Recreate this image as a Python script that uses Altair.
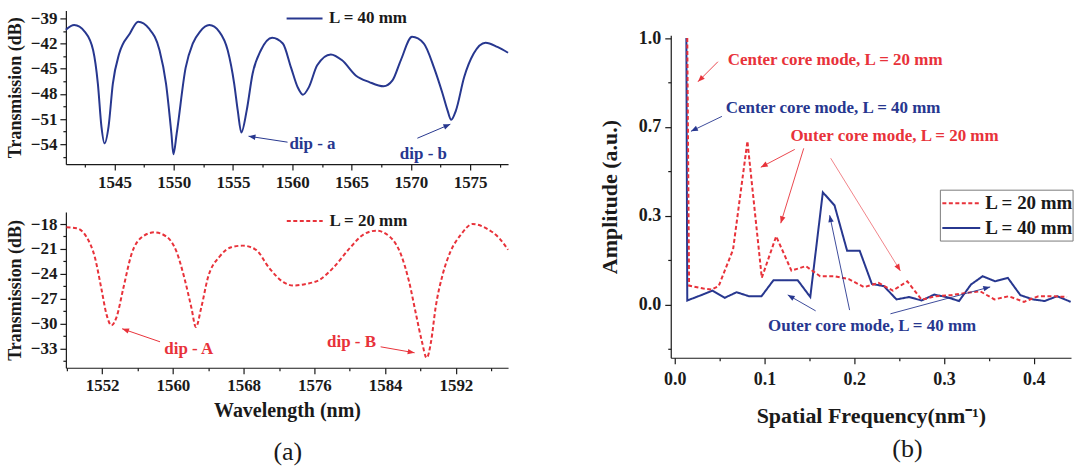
import math
import altair as alt
import pandas as pd

BLUE = "#27378f"
RED = "#e8323a"
INK = "#1a1a1a"
FONT = "Liberation Serif"
HEAD = "M0,0 L0.4,1 L-0.4,1 Z"

# ---------------- (a) top : L = 40 mm ----------------
wl40 = [1540.9, 1541.6, 1542.5, 1543.2, 1543.6, 1543.9, 1544.16, 1544.5, 1544.86, 1545.4,
        1546.3, 1547.0, 1547.9, 1548.8, 1549.35, 1549.8, 1549.97, 1550.25, 1551.0, 1551.6,
        1552.2, 1553.0, 1553.85, 1554.55, 1555.1, 1555.4, 1555.7, 1556.15, 1556.65, 1557.35,
        1558.3, 1559.2, 1559.9, 1560.45, 1560.9, 1561.4, 1562.1, 1563.25, 1564.2, 1565.35,
        1566.5, 1567.7, 1568.45, 1569.15, 1570.1, 1571.1, 1571.96, 1572.66, 1573.1, 1573.4,
        1573.8, 1574.5, 1575.3, 1576.3, 1577.3, 1578.2]
tr40 = [-40.35, -39.8, -40.6, -42.8, -46.8, -51.9, -53.9, -51.9, -46.8, -43.2,
        -40.8, -39.4, -40.2, -42.8, -46.8, -52.7, -55.2, -52.7, -44.9, -42.0,
        -40.6, -39.8, -40.6, -42.8, -46.8, -50.0, -52.6, -50.0, -45.6, -42.8,
        -41.3, -42.0, -44.9, -47.2, -48.1, -47.2, -44.6, -43.3, -44.0, -45.8,
        -46.6, -47.1, -46.4, -44.0, -41.2, -42.0, -44.9, -47.9, -50.0, -51.1,
        -50.0, -46.0, -43.2, -41.9, -42.4, -43.1]

# ---------------- (a) bottom : L = 20 mm ----------------
wl20 = [1547.97, 1549.1, 1550.2, 1551.2, 1551.9, 1552.5, 1553.05, 1553.6, 1554.4, 1555.3,
        1556.6, 1557.9, 1559.25, 1560.4, 1561.3, 1562.1, 1562.6, 1563.2, 1563.95, 1565.3,
        1566.6, 1567.9, 1569.4, 1570.9, 1572.5, 1573.6, 1575.1, 1576.6, 1578.1, 1580.0,
        1581.5, 1583.0, 1584.5, 1585.8, 1586.7, 1587.5, 1588.15, 1588.7, 1589.2, 1589.7,
        1590.5, 1591.4, 1592.55, 1593.9, 1595.4, 1596.9, 1597.9]
tr20 = [-18.4, -18.5, -19.5, -22.1, -25.7, -28.9, -30.2, -29.3, -25.7, -21.7,
        -19.5, -19.0, -19.5, -21.3, -24.5, -28.1, -30.4, -28.1, -24.5, -21.9,
        -20.8, -20.6, -21.1, -23.3, -25.0, -25.4, -25.2, -24.7, -23.3, -20.9,
        -19.3, -18.8, -19.5, -21.7, -24.9, -28.9, -32.1, -34.1, -32.1, -28.1,
        -24.1, -21.3, -19.3, -18.0, -18.5, -19.7, -21.1]

# ---------------- (b) spatial frequency spectrum ----------------
f40 = [0.0130, 0.0140, 0.0280, 0.0420, 0.0556, 0.0690, 0.0826, 0.0967, 0.1100, 0.1237,
       0.1370, 0.1510, 0.1650, 0.1780, 0.1920, 0.2060, 0.2196, 0.2330, 0.2470, 0.2610,
       0.2750, 0.2890, 0.3026, 0.3167, 0.3300, 0.3430, 0.3570, 0.3710, 0.3850, 0.3990,
       0.4120, 0.4260, 0.4410]
a40 = [1.000, 0.015, 0.033, 0.052, 0.025, 0.046, 0.031, 0.031, 0.091, 0.091,
       0.091, 0.028, 0.421, 0.372, 0.202, 0.202, 0.077, 0.069, 0.019, 0.028,
       0.015, 0.037, 0.028, 0.013, 0.075, 0.106, 0.087, 0.100, 0.035, 0.019,
       0.013, 0.031, 0.010]
f20 = [0.0140, 0.0160, 0.0320, 0.0410, 0.0490, 0.0650, 0.0810, 0.0970, 0.1130, 0.1300,
       0.1460, 0.1620, 0.1780, 0.1940, 0.2110, 0.2270, 0.2430, 0.2590, 0.2750, 0.2910,
       0.3080, 0.3240, 0.3400, 0.3560, 0.3720, 0.3890, 0.4050, 0.4210, 0.4370]
a20 = [1.000, 0.071, 0.060, 0.056, 0.069, 0.206, 0.613, 0.100, 0.256, 0.127,
       0.144, 0.106, 0.106, 0.095, 0.065, 0.081, 0.052, 0.087, 0.018, 0.031,
       0.035, 0.043, 0.050, 0.019, 0.031, 0.010, 0.031, 0.031, 0.028]

S20, S40 = "L = 20 mm", "L = 40 mm"

# annotations: (x, y, x2, y2, colour, width) in data units ; texts (x, y, text, colour)
top_arrows = [(1559.6, -53.76, 1556.31, -53.05, BLUE, 1.0),
              (1570.55, -53.29, 1573.33, -51.62, BLUE, 1.0)]
top_texts = [(1561.7, -54.0, "dip - a", BLUE), (1571.06, -55.19, "dip - b", BLUE)]
bot_arrows = [(1558.55, -32.17, 1554.26, -30.6, RED, 1.0),
              (1583.49, -32.77, 1587.33, -33.49, RED, 1.0)]
bot_texts = [(1561.8, -33.0, "dip - A", RED), (1580.2, -32.17, "dip - B", RED)]
r_arrows = [(0.0481, 0.911, 0.0259, 0.836, RED, 0.9),
            (0.0526, 0.706, 0.0181, 0.650, BLUE, 0.9),
            (0.1337, 0.582, 0.0959, 0.515, RED, 0.9),
            (0.1437, 0.586, 0.1181, 0.305, RED, 0.9),
            (0.1737, 0.549, 0.2514, 0.126, RED, 0.6),
            (0.1570, -0.024, 0.1259, 0.036, BLUE, 0.9),
            (0.1948, -0.021, 0.1726, 0.335, BLUE, 0.9),
            (0.2403, -0.035, 0.3514, 0.066, BLUE, 0.9)]
r_texts = [(0.1787, 0.919, "Center core mode, L = 20 mm", RED),
           (0.1764, 0.736, "Center core mode, L = 40 mm", BLUE),
           (0.2448, 0.631, "Outer core mode, L = 20 mm", RED),
           (0.2198, -0.080, "Outer core mode, L = 40 mm", BLUE)]

# legend keys: (x, x2, y, text_x, label, colour, dash) in data units
top_key = [(1559.52, 1562.55, -39.0, 1563.1, S40, BLUE, [1, 0])]
bot_key = [(1572.88, 1576.94, -17.64, 1577.7, S20, RED, [4, 2.5])]
r_key = [(0.2981, 0.3403, 0.380, 0.3459, S20, RED, [4, 2.5]),
         (0.2981, 0.3403, 0.287, 0.3459, S40, BLUE, [1, 0])]
r_key_box = (0.2959, 0.4437, 0.429, 0.238)


def make_axis(values, minor_test, title, label_pad, title_pad=0, fmt=None,
              title_size=18, label_size=17):
    kw = dict(values=values, title=title, grid=False,
              tickSize={"condition": {"test": minor_test, "value": 3}, "value": 6},
              labelExpr="(" + minor_test + ") ? '' : datum.label",
              labelPadding=label_pad, titlePadding=title_pad,
              labelFont=FONT, labelFontWeight="bold", labelFontSize=label_size, labelColor=INK,
              titleFont=FONT, titleFontWeight="bold", titleFontSize=title_size, titleColor=INK,
              domainColor=INK, tickColor=INK, domainWidth=1.2, tickWidth=1.2,
              labelFlush=False, labelOverlap=False)
    if fmt:
        kw["format"] = fmt
    return alt.Axis(**kw)


def annot_layers(xenc, yenc, arrows, texts, px, py, fs=17):
    arr = pd.DataFrame(arrows, columns=["x", "y", "x2", "y2", "c", "w"])
    arr["ang"] = [math.degrees(math.atan2((r.x2 - r.x) * px, (r.y2 - r.y) * py)) % 360
                  for r in arr.itertuples()]
    rules = alt.Chart(arr).mark_rule().encode(
        x=xenc("x"), y=yenc("y"), x2="x2:Q", y2="y2:Q",
        color=alt.Color("c:N", scale=None),
        strokeWidth=alt.StrokeWidth("w:Q", scale=None))
    heads = alt.Chart(arr).mark_point(shape=HEAD, filled=True, size=190, opacity=1).encode(
        x=xenc("x2"), y=yenc("y2"), angle=alt.Angle("ang:Q", scale=None),
        color=alt.Color("c:N", scale=None))
    tdf = pd.DataFrame(texts, columns=["x", "y", "t", "c"])
    txt = alt.Chart(tdf).mark_text(font=FONT, fontWeight="bold", fontSize=fs).encode(
        x=xenc("x"), y=yenc("y"), text="t:N", color=alt.Color("c:N", scale=None))
    return [rules, heads, txt]


def key_layers(xenc, yenc, keys, fs):
    layers = []
    for (x, x2, y, tx, lab, col, dash) in keys:
        d = pd.DataFrame({"x": [x], "x2": [x2], "y": [y], "tx": [tx], "t": [lab]})
        layers.append(alt.Chart(d).mark_rule(strokeWidth=2, color=col, strokeDash=dash).encode(
            x=xenc("x"), x2="x2:Q", y=yenc("y")))
        layers.append(alt.Chart(d).mark_text(font=FONT, fontWeight="bold", fontSize=fs,
                                             color=INK, align="left", baseline="middle").encode(
            x=xenc("tx"), y=yenc("y"), text="t:N"))
    return layers


# ---------- top-left panel ----------
W_L, H_T, H_B = 443, 154, 156
xd_t, yd_t = [1540.9, 1578.2], [-56.38, -38.05]
ax_xt = make_axis([1542.5 + 2.5 * i for i in range(15)], "datum.value % 5 != 0", None, 4,
                  fmt="d")
ax_yt = make_axis([-55.5 + 1.5 * i for i in range(12)], "datum.value % 3 != 0",
                  "Transmission (dB)", 3, 6)


def xt(f):
    return alt.X(f + ":Q", scale=alt.Scale(domain=xd_t, nice=False, zero=False), axis=ax_xt)


def yt(f):
    return alt.Y(f + ":Q", scale=alt.Scale(domain=yd_t, nice=False, zero=False), axis=ax_yt)


df40 = pd.DataFrame({"wl": wl40, "tr": tr40})
top_line = alt.Chart(df40).mark_line(strokeWidth=2, interpolate="monotone", color=BLUE).encode(
    x=xt("wl"), y=yt("tr"))
top = alt.layer(top_line,
                *annot_layers(xt, yt, top_arrows, top_texts,
                              W_L / (xd_t[1] - xd_t[0]), H_T / (yd_t[1] - yd_t[0])),
                *key_layers(xt, yt, top_key, 17)
                ).properties(width=W_L, height=H_T)

# ---------- bottom-left panel ----------
xd_b, yd_b = [1547.9, 1597.9], [-35.29, -16.56]
ax_xb = make_axis([1548 + 4 * i for i in range(13)], "datum.value % 8 != 0",
                  "Wavelength (nm)", 4, 7, fmt="d", title_size=20)
ax_yb = make_axis([-34.5 + 1.5 * i for i in range(12)], "datum.value % 3 != 0",
                  "Transmission (dB)", 3, 6)


def xb(f):
    return alt.X(f + ":Q", scale=alt.Scale(domain=xd_b, nice=False, zero=False), axis=ax_xb)


def yb(f):
    return alt.Y(f + ":Q", scale=alt.Scale(domain=yd_b, nice=False, zero=False), axis=ax_yb)


df20 = pd.DataFrame({"wl": wl20, "tr": tr20})
bot_line = alt.Chart(df20).mark_line(strokeWidth=2, interpolate="monotone", color=RED,
                                     strokeDash=[4, 2.5]).encode(x=xb("wl"), y=yb("tr"))
cap_a = alt.Chart(pd.DataFrame({"x": [1573.0], "y": [-45.4], "t": ["(a)"]})).mark_text(
    font=FONT, fontSize=26, color=INK).encode(x=xb("x"), y=yb("y"), text="t:N")
bottom = alt.layer(bot_line,
                   *annot_layers(xb, yb, bot_arrows, bot_texts,
                                 W_L / (xd_b[1] - xd_b[0]), H_B / (yd_b[1] - yd_b[0])),
                   *key_layers(xb, yb, bot_key, 17),
                   cap_a).properties(width=W_L, height=H_B)

# ---------- right panel ----------
W_R, H_R = 401, 323
xd_r, yd_r = [-0.0044, 0.4414], [-0.2, 1.01]
ax_xr = make_axis([0.05 * i for i in range(9)],
                  "abs(datum.value * 10 - round(datum.value * 10)) > 0.01",
                  "Spatial Frequency(nm⁻¹)", 7, 17, fmt=".1f", title_size=22, label_size=18)
ax_yr = make_axis([-1 / 6 + i / 6 for i in range(8)],
                  "abs(datum.value * 3 - round(datum.value * 3)) > 0.01",
                  "Amplitude (a.u.)", 4, 17, fmt=".1f", title_size=22, label_size=18)


def xr(f):
    return alt.X(f + ":Q", scale=alt.Scale(domain=xd_r, nice=False, zero=False), axis=ax_xr)


def yr(f):
    return alt.Y(f + ":Q", scale=alt.Scale(domain=yd_r, nice=False, zero=False), axis=ax_yr)


dfr = pd.concat([pd.DataFrame({"f": f40, "amp": a40, "series": S40}),
                 pd.DataFrame({"f": f20, "amp": a20, "series": S20})], ignore_index=True)
r_line = alt.Chart(dfr).mark_line(strokeWidth=2).encode(
    x=xr("f"), y=yr("amp"),
    color=alt.Color("series:N", scale=alt.Scale(domain=[S20, S40], range=[RED, BLUE]),
                    legend=None),
    strokeDash=alt.StrokeDash("series:N",
                              scale=alt.Scale(domain=[S20, S40], range=[[4, 2.5], [1, 0]]),
                              legend=None))
box_df = pd.DataFrame({"x": [r_key_box[0]], "x2": [r_key_box[1]],
                       "y": [r_key_box[2]], "y2": [r_key_box[3]]})
key_box = alt.Chart(box_df).mark_rect(fill="white", stroke="#7a7a7a", strokeWidth=1).encode(
    x=xr("x"), x2="x2:Q", y=yr("y"), y2="y2:Q")
cap_b = alt.Chart(pd.DataFrame({"x": [0.2592], "y": [-0.543], "t": ["(b)"]})).mark_text(
    font=FONT, fontSize=26, color=INK).encode(x=xr("x"), y=yr("y"), text="t:N")
right = alt.layer(r_line,
                  *annot_layers(xr, yr, r_arrows, r_texts,
                                W_R / (xd_r[1] - xd_r[0]), H_R / (yd_r[1] - yd_r[0])),
                  key_box, *key_layers(xr, yr, r_key, 19),
                  cap_b).properties(width=W_R, height=H_R)

spacer = alt.Chart(pd.DataFrame({"sp": [0.5]})).mark_point(opacity=0).encode(
    x=alt.X("sp:Q", axis=None, scale=alt.Scale(domain=[0, 1])),
    y=alt.Y("sp:Q", axis=None, scale=alt.Scale(domain=[0, 1]))
).properties(width=W_R, height=18)

RES = dict(x="independent", y="independent", color="independent", strokeDash="independent")
left_col = alt.vconcat(top, bottom, spacing=21).resolve_scale(**RES)
right_col = alt.vconcat(spacer, right, spacing=0).resolve_scale(**RES)

chart = alt.hconcat(left_col, right_col, spacing=86).resolve_scale(**RES).properties(
    padding={"left": 6, "top": 8, "right": 0, "bottom": 0},
    background="white"
).configure_view(strokeWidth=0)

chart.save("out.html", embed_options={"renderer": "svg", "actions": False})
